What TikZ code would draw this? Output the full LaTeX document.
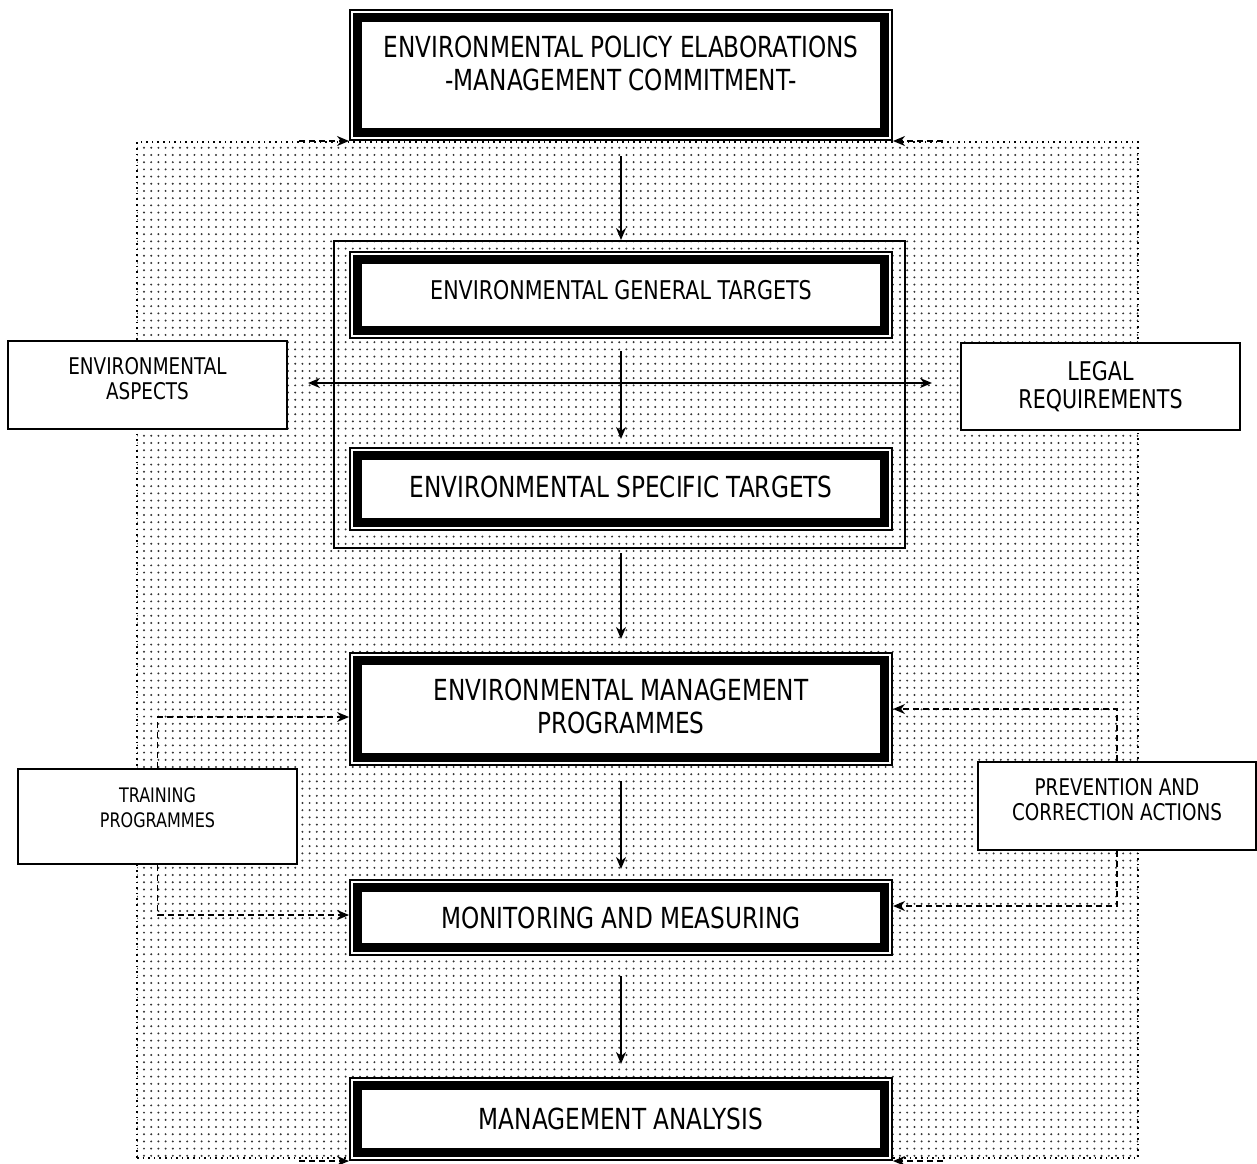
\documentclass[tikz,border=0pt]{standalone}
\usepackage{fontspec}
\setmainfont{DejaVu Sans}[FakeStretch=0.8]
\usetikzlibrary{arrows.meta,positioning,patterns.meta,calc}
\tikzset{
flow/.style={-{Stealth[length=6pt,width=5pt]}, line width=0.8pt},
feedback/.style={flow, dash pattern=on 3pt off 2pt},
framebox/.style={draw, line width=1pt, fill=white, align=center, minimum width=271pt,
    path picture={\draw[line width=4.2pt] ([shift={(3.7pt,3.7pt)}]path picture bounding box.south west)
        rectangle ([shift={(-3.7pt,-3.7pt)}]path picture bounding box.north east);}},
sidebox/.style={draw, line width=1pt, fill=white, align=center, minimum width=139.5pt},
}
\newcommand\sizeL{\fontsize{14.5}{16.5}\selectfont}
\newcommand\sizeM{\fontsize{12.9}{14}\selectfont}
\newcommand\sizeS{\fontsize{11.5}{12.5}\selectfont}
\newcommand\sizeXS{\fontsize{10}{12.5}\selectfont}

\begin{document}
\begin{tikzpicture}[
        x=0.5pt, y=-0.5pt,
        backdrop/.style={draw, dotted, line width=0.8pt, pattern={Dots[distance=3.6pt, radius=0.55pt]}, pattern color=black!80}
    ]
    \useasboundingbox (0,0) rectangle (1257,1163);

    \node[backdrop, minimum width=500.5pt, minimum height=508pt] (loop) at (637.5,650) {};

    \node[framebox, font=\sizeL, minimum height=65pt, text depth=11.5pt] (policy) at (621,75)
        {ENVIRONMENTAL POLICY ELABORATIONS\\-MANAGEMENT COMMITMENT-};
    \node[draw, line width=1pt, minimum width=285.5pt, minimum height=153.5pt] (tgtgroup) at (619.5,394.5) {};
    \node[framebox, font=\sizeM, minimum height=43pt, text depth=5pt] (gentgt) at (621,295)
        {ENVIRONMENTAL GENERAL TARGETS};
    \node[framebox, font=\sizeL, minimum height=41pt, text depth=2pt] (spectgt) at (621,489)
        {ENVIRONMENTAL SPECIFIC TARGETS};
    \node[framebox, font=\sizeL, minimum height=56pt, text depth=3pt] (envprog) at (621,709)
        {ENVIRONMENTAL MANAGEMENT\\PROGRAMMES};
    \node[framebox, font=\sizeL, minimum height=37.5pt] (monitor) at (621,917.5)
        {MONITORING AND MEASURING};
    \node[framebox, font=\sizeL, minimum height=41pt] (analysis) at (621,1119)
        {MANAGEMENT ANALYSIS};

    \node[sidebox, font=\sizeS, minimum height=44pt, text depth=6.5pt] (aspects) at (147.5,385)
        {ENVIRONMENTAL\\ASPECTS};
    \node[sidebox, font=\sizeM, minimum height=43.5pt] (legal) at (1100.5,386.5)
        {LEGAL\\REQUIREMENTS};
    \node[sidebox, font=\sizeXS, minimum height=47.5pt, text depth=9pt] (training) at (157.5,816.5)
        {TRAINING\\PROGRAMMES};
    \node[sidebox, font=\sizeS, minimum width=139pt, minimum height=44pt, text depth=6.5pt] (prevent) at (1117,806)
        {PREVENTION AND\\CORRECTION ACTIONS};

    % main chain
    \draw[flow, shorten <=7.5pt] (policy.south) -- (policy.south |- tgtgroup.north);
    \draw[flow, shorten <=6pt, shorten >=4pt] (gentgt) -- (spectgt);
    \draw[flow, shorten <=2pt, shorten >=6.5pt] (envprog.north |- tgtgroup.south) -- (envprog.north);
    \draw[flow, shorten <=7.5pt, shorten >=5pt] (envprog) -- (monitor);
    \draw[flow, shorten <=10pt, shorten >=6.5pt] (monitor) -- (analysis);

    \coordinate (crossing) at (621,383);
    \draw[flow, {Stealth[length=6pt,width=5pt]}-{Stealth[length=6pt,width=5pt]}, shorten <=10pt, shorten >=14pt]
        (aspects.east |- crossing) -- (legal.west |- crossing);

    % feedback
    \draw[feedback] (training.north) |- ([yshift=-4pt]envprog.west);
    \draw[feedback] (training.south) |- ([yshift=1.25pt]monitor.west);
    \draw[feedback] (prevent.north) |- (envprog.east);
    \draw[feedback] (prevent.south) |- ([yshift=5.75pt]monitor.east);

    \draw[feedback] ([xshift=-25pt]policy.south west) -- (policy.south west);
    \draw[feedback] ([xshift=25pt]policy.south east) -- (policy.south east);
    \draw[feedback] ([xshift=-25pt]analysis.south west) -- (analysis.south west);
    \draw[feedback] ([xshift=25pt]analysis.south east) -- (analysis.south east);
\end{tikzpicture}
\end{document}
